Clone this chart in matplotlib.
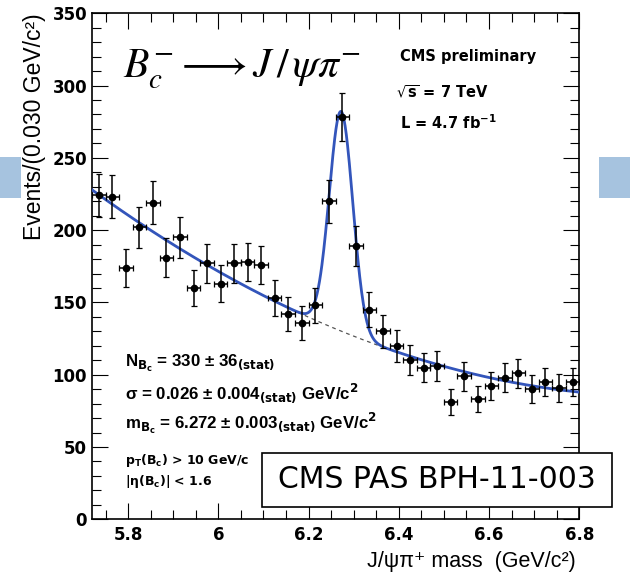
import numpy as np
import matplotlib.pyplot as plt
from matplotlib.patches import Rectangle
from matplotlib.ticker import MultipleLocator

# histogram: J/psi pi mass, 0.030 GeV bins from 5.72 to 6.80
bin_width = 0.030
mass_lo, mass_hi = 5.72, 6.80
counts = [224, 223, 174, 202, 219, 181, 195, 160, 177, 163, 177, 178,
          176, 153, 142, 136, 148, 220, 278, 189, 145, 130, 120, 110,
          105, 106, 81, 99, 83, 92, 98, 101, 90, 95, 91, 95]

# fit result (gaussian signal + 2nd order polynomial background)
n_sig = 330
sig_width = 0.026
sig_mass = 6.272
bkg_x = [5.724, 6.248, 6.790]   # background read at three masses
bkg_y = [227.0, 133.3, 88.3]

xtick_vals = [5.8, 6.0, 6.2, 6.4, 6.6, 6.8]
xtick_labels = ["5.8", "6", "6.2", "6.4", "6.6", "6.8"]
ytick_vals = [0, 50, 100, 150, 200, 250, 300, 350]
ytick_labels = ["0", "50", "100", "150", "200", "250", "300", "350"]

centers = mass_lo + bin_width * (np.arange(len(counts)) + 0.5)
counts = np.array(counts, dtype=float)
errs = np.sqrt(counts)

bkg_coef = np.polyfit(bkg_x, bkg_y, 2)
xs = np.linspace(mass_lo, mass_hi, 800)
bkg = np.polyval(bkg_coef, xs)
amp = n_sig * bin_width / (sig_width * np.sqrt(2 * np.pi))
total = bkg + amp * np.exp(-0.5 * ((xs - sig_mass) / sig_width) ** 2)

arial = ["Liberation Sans", "DejaVu Sans"]

fig = plt.figure(figsize=(6.3, 5.73), dpi=100)
ax = fig.add_axes([0.146, 0.0937, 0.7735, 0.8831])

ax.plot(xs, bkg, color="#555555", lw=0.9, dashes=(3, 3), zorder=2)
ax.plot(xs, total, color="#3355bb", lw=2.0, zorder=3)
ax.errorbar(centers, counts, xerr=bin_width / 2, yerr=errs, fmt="o",
            color="black", ms=4.5, elinewidth=1.1, capsize=2.2,
            capthick=0.9, zorder=4)

ax.set_xlim(mass_lo, mass_hi)
ax.set_ylim(0, 350)
ax.set_xticks(xtick_vals, xtick_labels, fontsize=12, fontweight="bold")
ax.set_yticks(ytick_vals, ytick_labels, fontsize=12, fontweight="bold")
ax.xaxis.set_minor_locator(MultipleLocator(0.05))
ax.yaxis.set_minor_locator(MultipleLocator(10))
ax.tick_params(which="both", direction="in", top=True, right=True, width=0.8)
ax.tick_params(which="major", length=11.5)
ax.tick_params(which="minor", length=6.5)
ax.tick_params(axis="x", pad=5)
ax.tick_params(axis="y", pad=3.5)
for sp in ax.spines.values():
    sp.set_linewidth(1.2)

ax.set_ylabel("Events/(0.030 GeV/c²)", loc="top", fontsize=16.5, family=arial)
ax.yaxis.set_label_coords(-0.094, 1.0)
ax.set_xlabel("J/ψπ⁺ mass  (GeV/c²)", loc="right", fontsize=15.5, family=arial)
ax.xaxis.set_label_coords(0.993, -0.062)

# decay title
ax.text(0.064, 0.872, r"$B_c^{-} \longrightarrow J\,/\,\psi\pi^{-}$",
        transform=ax.transAxes, fontsize=30, math_fontfamily="stix",
        va="baseline", ha="left")

# CMS labels
ax.text(0.632, 0.914, "CMS preliminary", transform=ax.transAxes,
        fontsize=10.5, fontweight="bold", va="center")
ax.text(0.624, 0.845, r"$\sqrt{\mathbf{s}}$ = 7 TeV", transform=ax.transAxes,
        fontsize=10.5, fontweight="bold", va="center")
ax.text(0.632, 0.783, r"L = 4.7 fb$^{\mathbf{-1}}$", transform=ax.transAxes,
        fontsize=10.5, fontweight="bold", va="center")

# fit results
fit_lines = [
    (0.309, r"N$_{\mathbf{B_c}}$ = 330 ± 36$_{\mathbf{(stat)}}$"),
    (0.250, r"σ = 0.026 ± 0.004$_{\mathbf{(stat)}}$ GeV/c$^{\mathbf{2}}$"),
    (0.190, r"m$_{\mathbf{B_c}}$ = 6.272 ± 0.003$_{\mathbf{(stat)}}$ GeV/c$^{\mathbf{2}}$"),
]
for ypos, txt in fit_lines:
    ax.text(0.068, ypos, txt, transform=ax.transAxes, fontsize=12.2,
            fontweight="bold", va="center", family=arial)

ax.text(0.068, 0.117, r"p$_{\mathbf{T}}$(B$_{\mathbf{c}}$) > 10 GeV/c",
        transform=ax.transAxes, fontsize=9, fontweight="bold", va="center")
ax.text(0.068, 0.074, r"|η(B$_{\mathbf{c}}$)| < 1.6",
        transform=ax.transAxes, fontsize=9, fontweight="bold", va="center")

# PAS reference box
fig.add_artist(Rectangle((0.416, 0.1157), 0.556, 0.0942, transform=fig.transFigure,
                         facecolor="white", edgecolor="black", lw=1.2, zorder=5))
fig.text(0.694, 0.1628, "CMS PAS BPH-11-003", fontsize=21.5, ha="center",
         va="center", zorder=6)

# slide decorations
for x0, w in [(0.0, 21 / 630), (599 / 630, 31 / 630)]:
    fig.add_artist(Rectangle((x0, (573 - 198) / 573), w, 41 / 573,
                             transform=fig.transFigure, facecolor="#a6c3df",
                             edgecolor="none", zorder=1))

fig.savefig("out.png", dpi=100)
